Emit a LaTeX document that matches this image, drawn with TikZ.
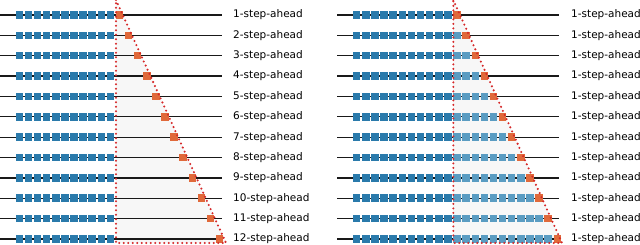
\documentclass[tikz,border=0pt]{standalone}
\usepackage{fontspec}
\setmainfont{DejaVu Sans}
\definecolor{hblue}{HTML}{2A7AAB}
\definecolor{pblue}{HTML}{5A9CC2}
\definecolor{forange}{HTML}{E0693A}
\definecolor{tred}{HTML}{D62728}
\definecolor{tfill}{HTML}{F7F7F7}
\tikzset{
  sq/.style={draw=none,minimum size=7.5pt,inner sep=0pt,outer sep=0pt},
  hist/.style={sq,fill=hblue},
  pred/.style={sq,fill=pblue},
  fut/.style={sq,fill=forange},
  rowline/.style={line width=1.3pt,black!90},
  region/.style={tred,line width=2.3pt,dash pattern=on 0pt off 4.5pt,line cap=round},
  lbl/.style={anchor=west,inner sep=0pt,font=\fontsize{10.5}{12}\selectfont}
}
\begin{document}
\begin{tikzpicture}[x=1pt,y=-1pt]
\useasboundingbox (0,0) rectangle (640,245);
\fill[white] (0,0) rectangle (640,245);
% triangles fill
\coordinate (LA) at (116,0); \coordinate (LB) at (226,243); \coordinate (LC) at (116,243);
\coordinate (RA) at (453.3,0); \coordinate (RB) at (562,243); \coordinate (RC) at (453.3,243);
\fill[tfill] (LA) -- (LB) -- (LC) -- cycle;
\fill[tfill] (RA) -- (RB) -- (RC) -- cycle;
\foreach \k in {1,...,12}{
  \pgfmathsetmacro{\y}{15+(\k-1)*20.36}
  % left panel
  \coordinate (ls\k) at (0,\y);
  \coordinate (le\k) at (221.5,\y);
  \draw[rowline] (ls\k) -- (le\k);
  \foreach \i in {0,...,10}{
    \node[hist] (lh\k-\i) at ({19.4+9.1*\i},\y) {};
  }
  \node[fut] (lf\k) at ({19.4+9.1*(10+\k)},\y) {};
  \node[lbl] (lt\k) at (233,\y) {\k-step-ahead};
  % right panel
  \coordinate (rs\k) at (337.3,\y);
  \coordinate (re\k) at (558.5,\y);
  \draw[rowline] (rs\k) -- (re\k);
  \foreach \i in {0,...,10}{
    \node[hist] (rh\k-\i) at ({356.7+9.12*\i},\y) {};
  }
  \ifnum\k>1
    \pgfmathtruncatemacro{\last}{9+\k}
    \foreach \i in {11,...,\last}{
      \node[pred] (rp\k-\i) at ({356.7+9.12*\i},\y) {};
    }
  \fi
  \node[fut] (rf\k) at ({356.7+9.12*(10+\k)},\y) {};
  \node[lbl] (rt\k) at (571,\y) {1-step-ahead};
}
\draw[region] (LA) -- (LB) -- (LC) -- cycle;
\draw[region] (RA) -- (RB) -- (RC) -- cycle;
\end{tikzpicture}
\end{document}
